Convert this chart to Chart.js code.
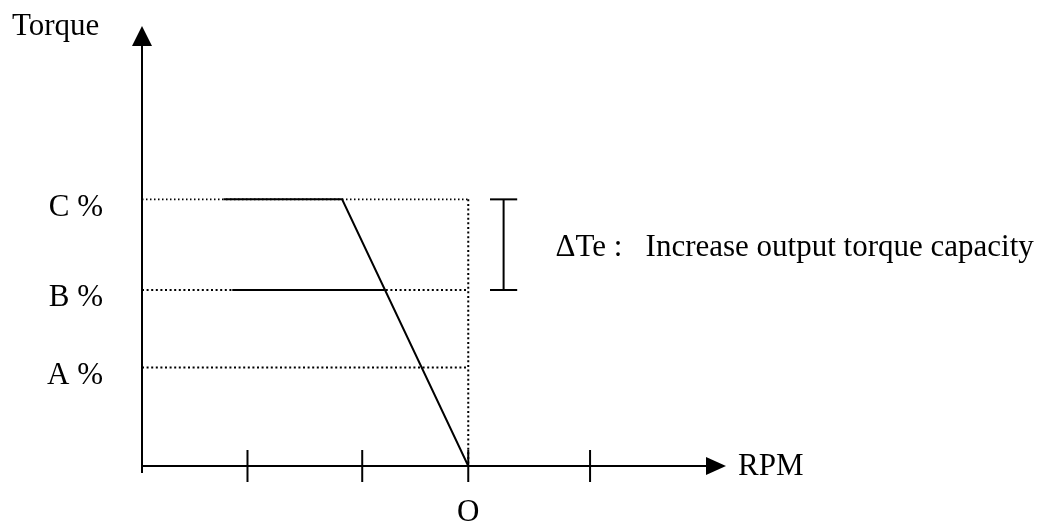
<!DOCTYPE html>
<html>
<head>
<meta charset="utf-8">
<title>Torque vs RPM</title>
<script src="https://cdn.jsdelivr.net/npm/chart.js@4/dist/chart.umd.min.js"></script>
<style>
  html, body { margin: 0; padding: 0; background: #fff; }
  canvas { display: block; }
</style>
</head>
<body>
<canvas id="torqueChart" width="1049" height="521"></canvas>
<script>
// axis ranges (RPM in arbitrary units, O = 0; torque in %)
const rpmMin = -3;
const rpmMax = 2.37;
const torqueMin = 0;
const torqueMax = 100;

// tick marks on the RPM axis, only the one at 0 is labelled
const rpmTicks = [-2.03, -0.975, 0, 1.12];
const rpmTickLabels = ['', '', 'O', ''];

// torque levels
const levelLabels = ['C %', 'B %', 'A %'];
const levelValues = [60.6, 40, 22.4];

// torque curves
const curveCx = [-2.25, -1.16, 0];
const curveCy = [60.6, 60.6, 0];
const curveBx = [-2.17, -0.77];
const curveBy = [40, 40];

// delta Te bracket
const bracketX = 0.325;
const bracketCap = [0.2, 0.45];

function pts(xs, ys) {
    return xs.map((x, i) => ({ x: x, y: ys[i] }));
}

function line(data, dash, width) {
    return {
        data: data,
        showLine: true,
        borderColor: '#000',
        borderWidth: width || 2,
        borderDash: dash || [],
        pointRadius: 0,
        fill: false
    };
}

const dots = [2, 2.6];

const datasets = [
    // dotted guides
    line(pts([rpmMin, 0], [levelValues[0], levelValues[0]]), [1.5, 2.5], 1.6),
    line(pts([0, 0], [levelValues[0], 0]), dots),
    line(pts([rpmMin, 0], [levelValues[1], levelValues[1]]), dots),
    line(pts([rpmMin, 0], [levelValues[2], levelValues[2]]), dots),
    // solid curves
    line(pts(curveCx, curveCy)),
    line(pts(curveBx, curveBy)),
    // bracket
    line(pts([bracketX, bracketX], [levelValues[0], levelValues[1]])),
    line(pts(bracketCap, [levelValues[0], levelValues[0]])),
    line(pts(bracketCap, [levelValues[1], levelValues[1]]))
];

const FONT = '31px "Liberation Serif", "Times New Roman", serif';

// axes with arrows, ticks and all text
const axesPlugin = {
    id: 'axesPlugin',
    afterDatasetsDraw(chart) {
        const ctx = chart.ctx;
        const xs = chart.scales.x;
        const ys = chart.scales.y;
        const x0 = xs.getPixelForValue(rpmMin);
        const x1 = xs.getPixelForValue(rpmMax);
        const y0 = ys.getPixelForValue(torqueMin);
        const y1 = ys.getPixelForValue(torqueMax);

        ctx.save();
        ctx.strokeStyle = '#000';
        ctx.fillStyle = '#000';
        ctx.lineWidth = 2;

        // y axis
        ctx.beginPath();
        ctx.moveTo(x0, y0 + 7);
        ctx.lineTo(x0, y1 + 18);
        ctx.stroke();
        ctx.beginPath();
        ctx.moveTo(x0, y1);
        ctx.lineTo(x0 - 10, y1 + 20);
        ctx.lineTo(x0 + 10, y1 + 20);
        ctx.closePath();
        ctx.fill();

        // x axis
        ctx.beginPath();
        ctx.moveTo(x0, y0);
        ctx.lineTo(x1 - 18, y0);
        ctx.stroke();
        ctx.beginPath();
        ctx.moveTo(x1, y0);
        ctx.lineTo(x1 - 20, y0 - 9);
        ctx.lineTo(x1 - 20, y0 + 9);
        ctx.closePath();
        ctx.fill();

        ctx.font = FONT;
        ctx.textBaseline = 'middle';

        // ticks
        rpmTicks.forEach((v, i) => {
            const px = xs.getPixelForValue(v);
            ctx.beginPath();
            ctx.moveTo(px, y0 - 16);
            ctx.lineTo(px, y0 + 16);
            ctx.stroke();
            if (rpmTickLabels[i]) {
                ctx.textAlign = 'center';
                ctx.fillText(rpmTickLabels[i], px, y0 + 47);
            }
        });

        // level labels
        ctx.textAlign = 'right';
        levelValues.forEach((v, i) => {
            ctx.fillText(levelLabels[i], x0 - 39, ys.getPixelForValue(v) + 8);
        });

        // axis titles
        ctx.textAlign = 'left';
        ctx.fillText('Torque', 12, 27);
        ctx.fillText('RPM', x1 + 12, y0 + 1);

        // delta Te note
        const bx = xs.getPixelForValue(bracketX);
        const yMid = (ys.getPixelForValue(levelValues[0]) + ys.getPixelForValue(levelValues[1])) / 2 + 3;
        ctx.fillText('\u0394Te :', bx + 52, yMid);
        ctx.fillText('Increase output torque capacity', bx + 142, yMid);
        ctx.restore();
    }
};

new Chart(document.getElementById('torqueChart'), {
    type: 'scatter',
    data: { datasets: datasets },
    options: {
        responsive: false,
        animation: false,
        layout: { padding: { left: 142, right: 323, top: 26, bottom: 55 } },
        plugins: { legend: { display: false }, tooltip: { enabled: false } },
        scales: {
            x: { type: 'linear', min: rpmMin, max: rpmMax, display: false },
            y: { type: 'linear', min: torqueMin, max: torqueMax, display: false }
        }
    },
    plugins: [axesPlugin]
});
</script>
</body>
</html>
